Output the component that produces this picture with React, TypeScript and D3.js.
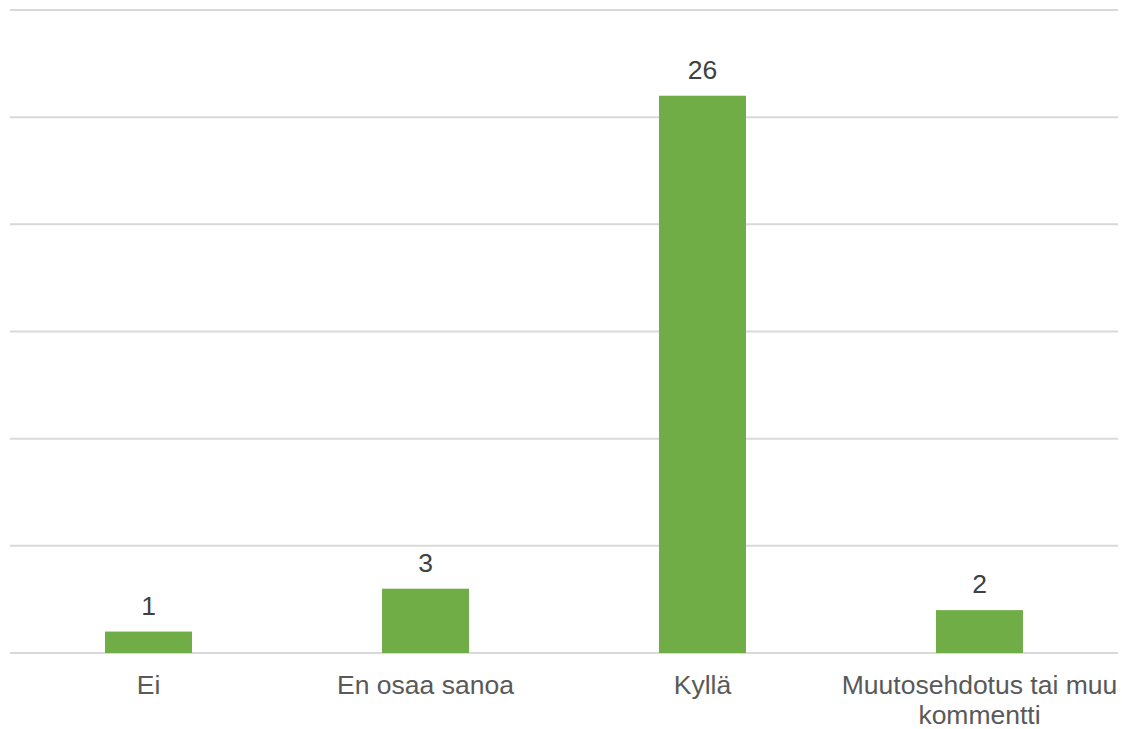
import React from "react";
import * as d3 from "d3";

const categories: string[][] = [
  ["Ei"],
  ["En osaa sanoa"],
  ["Kyllä"],
  ["Muutosehdotus tai muu", "kommentti"],
];
const values: number[] = [1, 3, 26, 2];
const gridTicks: number[] = [0, 5, 10, 15, 20, 25, 30];

const W = 1122;
const H = 729;
const plot = { left: 10, right: 1118, top: 10, bottom: 653 };

export default function App() {
  const x = d3
    .scaleBand<number>()
    .domain(values.map((_, i) => i))
    .range([plot.left, plot.right])
    .paddingInner(0.686)
    .paddingOuter(0.343);
  const band = d3
    .scaleBand<number>()
    .domain(values.map((_, i) => i))
    .range([plot.left, plot.right]);
  const y = d3.scaleLinear().domain([0, 30]).range([plot.bottom, plot.top]);
  const font = "'Liberation Sans', Arial, sans-serif";

  return (
    <svg
      width={W}
      height={H}
      style={{ position: "absolute", left: 0, top: 0, background: "#fff" }}
    >
      {gridTicks.map((t) => (
        <line
          key={t}
          x1={plot.left}
          x2={plot.right}
          y1={y(t)}
          y2={y(t)}
          stroke="#d9d9d9"
          strokeWidth={2}
        />
      ))}
      {values.map((v, i) => (
        <g key={i}>
          <rect
            x={x(i)!}
            y={y(v)}
            width={x.bandwidth()}
            height={y(0) - y(v)}
            fill="#70ad47"
          />
          <text
            x={x(i)! + x.bandwidth() / 2}
            y={y(v) - 17}
            textAnchor="middle"
            fontFamily={font}
            fontSize={26.5}
            fill="#404040"
          >
            {v}
          </text>
        </g>
      ))}
      {categories.map((lines, i) => (
        <text
          key={i}
          x={band(i)! + band.bandwidth() / 2}
          y={694}
          textAnchor="middle"
          fontFamily={font}
          fontSize={26.5}
          fill="#595959"
        >
          {lines.map((l, j) => (
            <tspan key={j} x={band(i)! + band.bandwidth() / 2} dy={j === 0 ? 0 : 30}>
              {l}
            </tspan>
          ))}
        </text>
      ))}
    </svg>
  );
}
